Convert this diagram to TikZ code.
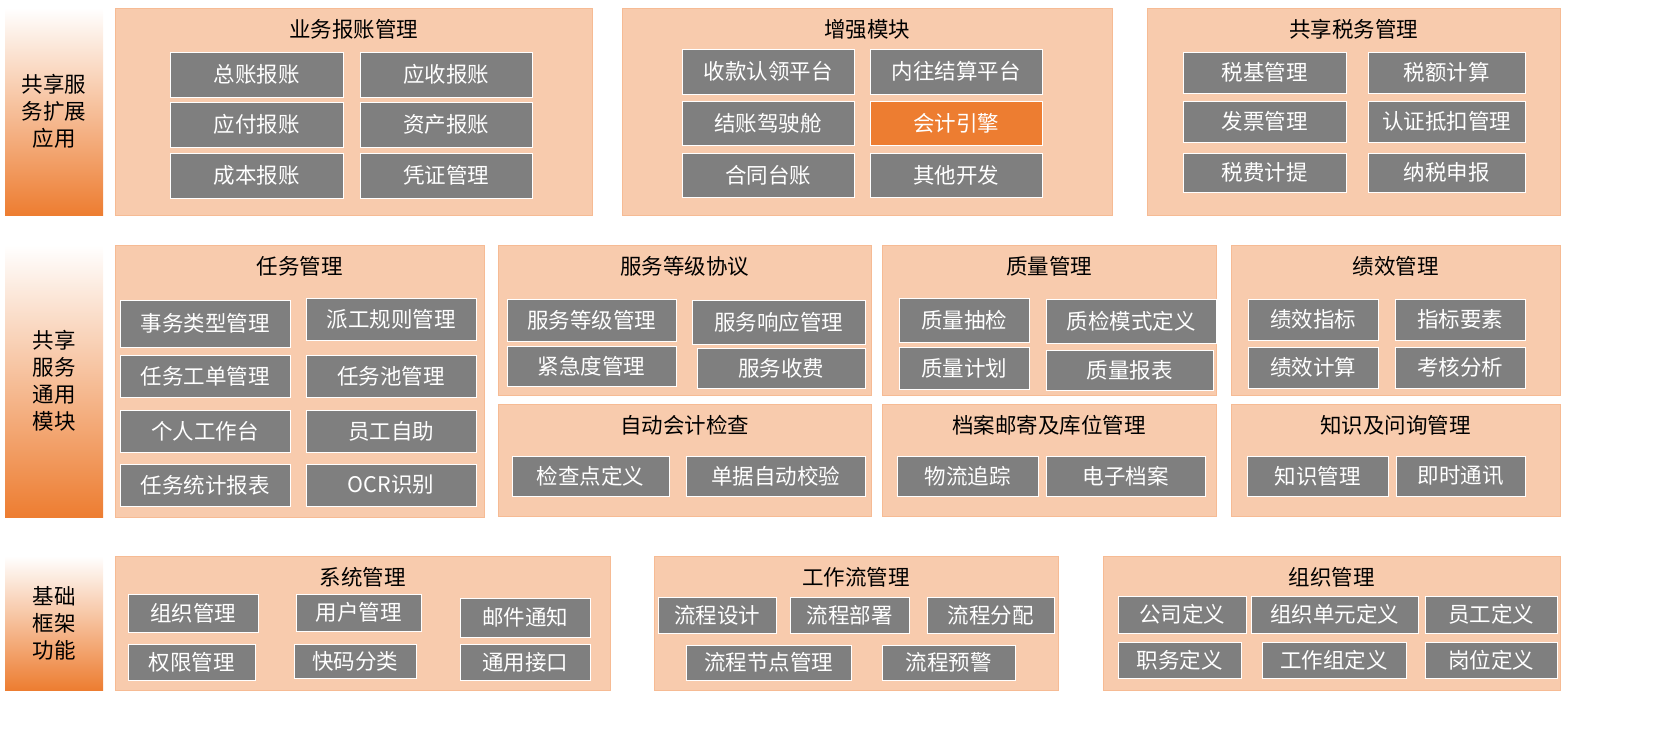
\documentclass[tikz,border=0pt]{standalone}
\usepackage{fontspec}
\setmainfont{Noto Sans CJK SC}
\definecolor{peach}{HTML}{F8CBAD}
\definecolor{btn}{HTML}{7F7F7F}
\definecolor{org}{HTML}{ED7D31}
\tikzset{
 panel/.style={fill=peach,draw=peach!80!org,line width=0.6pt},
 btnbox/.style={fill=btn,draw=white,line width=1pt,text=white,font=\fontsize{21.5}{24}\selectfont},
 hot/.style={btnbox,fill=org},
 ttl/.style={font=\fontsize{21.5}{24}\selectfont,anchor=center},
}
\newcommand\Pn[6]{\draw[panel] (#1,#2) rectangle (#3,#4);
 \node[ttl] (#6) at ({(#1+#3)/2},#2+21) {#5};}
\newcommand\Bt[6][btnbox]{\draw[#1] (#2,#3) rectangle (#4,#5);
 \node[#1,draw=none,fill=none] at ({(#2+#4)/2},{(#3+#5)/2}) {#6};}
\newcommand\Sd[5]{\shade[top color=white,bottom color=org] (#1,#2) rectangle (#3,#4);
 \node[font=\fontsize{21.5}{27}\selectfont,align=center] at ({(#1+#3)/2},{(#2+#4)/2}) {#5};}
\begin{document}
\begin{tikzpicture}[x=1pt,y=-1pt]
\useasboundingbox (0,0) rectangle (1667,737);
\Sd{5}{8}{103}{215}{共享服\\务扩展\\应用}
\Sd{5}{245}{103}{517}{共享\\服务\\通用\\模块}
\Sd{5}{556}{103}{690}{基础\\框架\\功能}
% row 1
\Pn{115}{8}{592}{215}{业务报账管理}{p1}
\Bt{170}{52}{343}{97}{总账报账}\Bt{360}{52}{532}{97}{应收报账}
\Bt{170}{102}{343}{147}{应付报账}\Bt{360}{102}{532}{147}{资产报账}
\Bt{170}{153}{343}{198}{成本报账}\Bt{360}{153}{532}{198}{凭证管理}
\Pn{622}{8}{1112}{215}{增强模块}{p2}
\Bt{682}{49}{854}{94}{收款认领平台}\Bt{870}{49}{1042}{94}{内往结算平台}
\Bt{682}{101}{854}{145}{结账驾驶舱}\Bt[hot]{870}{101}{1042}{145}{会计引擎}
\Bt{682}{153}{854}{197}{合同台账}\Bt{870}{153}{1042}{197}{其他开发}
\Pn{1147}{8}{1560}{215}{共享税务管理}{p3}
\Bt{1183}{52}{1346}{93}{税基管理}\Bt{1368}{52}{1525}{93}{税额计算}
\Bt{1183}{101}{1346}{142}{发票管理}\Bt{1368}{101}{1525}{142}{认证抵扣管理}
\Bt{1183}{153}{1346}{192}{税费计提}\Bt{1368}{153}{1525}{192}{纳税申报}
% row 2
\Pn{115}{245}{484}{517}{任务管理}{p4}
\Bt{120}{300}{290}{347}{事务类型管理}\Bt{306}{298}{476}{340}{派工规则管理}
\Bt{120}{355}{290}{397}{任务工单管理}\Bt{306}{355}{476}{397}{任务池管理}
\Bt{120}{410}{290}{452}{个人工作台}\Bt{306}{410}{476}{452}{员工自助}
\Bt{120}{464}{290}{506}{任务统计报表}\Bt{306}{464}{476}{506}{OCR识别}
\Pn{498}{245}{871}{395}{服务等级协议}{p5}
\Bt{507}{299}{676}{341}{服务等级管理}\Bt{692}{300}{865}{344}{服务响应管理}
\Bt{507}{346}{676}{386}{紧急度管理}\Bt{697}{348}{865}{388}{服务收费}
\Pn{498}{404}{871}{516}{自动会计检查}{p6}
\Bt{512}{456}{669}{496}{检查点定义}\Bt{686}{456}{865}{496}{单据自动校验}
\Pn{882}{245}{1216}{395}{质量管理}{p7}
\Bt{899}{298}{1029}{342}{质量抽检}\Bt{1046}{299}{1216}{343}{质检模式定义}
\Bt{899}{347}{1029}{389}{质量计划}\Bt{1046}{350}{1213}{390}{质量报表}
\Pn{882}{404}{1216}{516}{档案邮寄及库位管理}{p8}
\Bt{897}{456}{1038}{496}{物流追踪}\Bt{1046}{456}{1205}{496}{电子档案}
\Pn{1231}{245}{1560}{395}{绩效管理}{p9}
\Bt{1248}{299}{1378}{340}{绩效指标}\Bt{1395}{299}{1525}{340}{指标要素}
\Bt{1248}{347}{1378}{388}{绩效计算}\Bt{1395}{347}{1525}{388}{考核分析}
\Pn{1231}{404}{1560}{516}{知识及问询管理}{p10}
\Bt{1247}{456}{1388}{496}{知识管理}\Bt{1396}{456}{1525}{496}{即时通讯}
% row 3
\Pn{115}{556}{610}{690}{系统管理}{p11}
\Bt{128}{594}{258}{632}{组织管理}\Bt{296}{594}{421}{631}{用户管理}\Bt{460}{598}{590}{637}{邮件通知}
\Bt{128}{644}{255}{680}{权限管理}\Bt{294}{644}{416}{678}{快码分类}\Bt{460}{644}{590}{680}{通用接口}
\Pn{654}{556}{1058}{690}{工作流管理}{p12}
\Bt{658}{597}{776}{633}{流程设计}\Bt{790}{597}{909}{633}{流程部署}\Bt{927}{597}{1054}{633}{流程分配}
\Bt{686}{645}{851}{680}{流程节点管理}\Bt{882}{645}{1015}{680}{流程预警}
\Pn{1103}{556}{1560}{690}{组织管理}{p13}
\Bt{1118}{596}{1246}{633}{公司定义}\Bt{1251}{596}{1418}{633}{组织单元定义}\Bt{1425}{596}{1557}{633}{员工定义}
\Bt{1118}{642}{1241}{678}{职务定义}\Bt{1262}{642}{1406}{678}{工作组定义}\Bt{1425}{642}{1557}{678}{岗位定义}
\end{tikzpicture}
\end{document}
